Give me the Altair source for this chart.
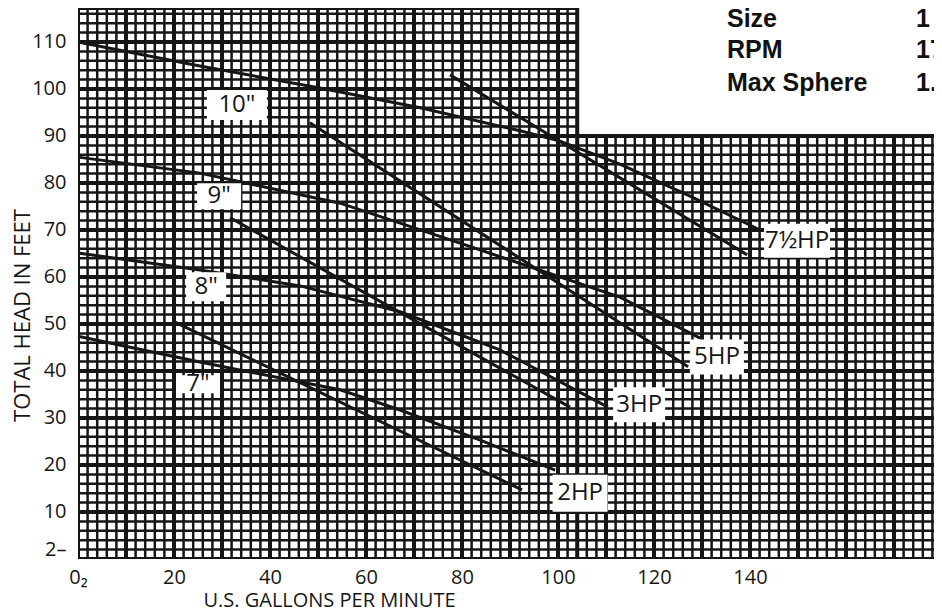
import altair as alt
import pandas as pd
import numpy as np

# ---- impeller-diameter head curves (U.S. gpm, total head ft) ----
d10_gpm = [0, 25.4, 50.4, 71.3, 92.1, 100.4, 112.9, 127.5, 142.1]
d10_head = [110.0, 104.9, 100.2, 96.0, 91.1, 88.9, 84.0, 77.2, 70.0]
d9_gpm = [0, 25.4, 54.6, 79.6, 112.9, 129.6]
d9_head = [85.5, 82.1, 75.7, 67.2, 55.7, 47.0]
d8_gpm = [0, 25.4, 46.3, 67.1, 87.9, 110.4]
d8_head = [65.1, 61.5, 58.1, 52.6, 44.5, 32.3]
d7_gpm = [0, 25.4, 54.6, 67.1, 83.8, 99.4]
d7_head = [47.4, 41.9, 36.0, 31.7, 25.3, 18.9]

# ---- horsepower limit lines ----
hp75_gpm = [77.5, 139.4]
hp75_head = [103.0, 64.7]
hp5_gpm = [48.3, 127.1]
hp5_head = [92.8, 40.9]
hp3_gpm = [31.7, 102.5]
hp3_head = [72.6, 32.3]
hp2_gpm = [20.2, 92.5]
hp2_head = [50.4, 14.7]

# ---- curve labels (anchor in data units) ----
curve_labels = ['10"', '9"', '8"', '7"', '7½HP', '5HP', '3HP', '2HP']
label_gpm = [33.1, 29.4, 26.7, 25.0, 149.8, 133.1, 116.9, 104.6]
label_head = [96.6, 77.2, 57.9, 37.2, 67.7, 43.0, 32.8, 14.0]

# ---- spec block ----
info_names = ["Size", "RPM", "Max Sphere"]
info_values = ['1 1/4"', "1750", '1.5"']
info_head = [113.2, 106.6, 99.6]
info_name_gpm = 135.2
info_value_gpm = 174.6

# ---- axis ticks ----
x_ticks = [0, 20, 40, 60, 80, 100, 120, 140]
y_ticks = [2, 10, 20, 30, 40, 50, 60, 70, 80, 90, 100, 110]

X_MAX = 178.33
Y_MAX = 117.23
STEP_X = 104
STEP_Y = 90

# ---------------- tables ----------------
curves = []
for name, gx, hy in [("10in", d10_gpm, d10_head), ("9in", d9_gpm, d9_head),
                     ("8in", d8_gpm, d8_head), ("7in", d7_gpm, d7_head),
                     ("7.5hp", hp75_gpm, hp75_head), ("5hp", hp5_gpm, hp5_head),
                     ("3hp", hp3_gpm, hp3_head), ("2hp", hp2_gpm, hp2_head)]:
    for i, (a, b) in enumerate(zip(gx, hy)):
        curves.append({"curve": name, "x": a, "y": b, "o": i})
curves = pd.DataFrame(curves)

# graph-paper grid (stepped outline)
rows = []
for v in range(0, 181, 2):
    top = Y_MAX if v <= STEP_X else STEP_Y
    rows.append({"x": v, "x2": v, "y": 0, "y2": top, "heavy": v % 10 == 0 or v == STEP_X})
for h in range(0, 117, 2):
    right = X_MAX + 2 if h <= STEP_Y else STEP_X
    rows.append({"x": 0, "x2": right, "y": h, "y2": h, "heavy": h % 10 == 0})
rows.append({"x": 0, "x2": STEP_X, "y": Y_MAX, "y2": Y_MAX, "heavy": True})
grid = pd.DataFrame(rows)

labels = pd.DataFrame({"x": label_gpm, "y": label_head, "t": curve_labels})
info = pd.DataFrame({"y": info_head, "name": info_names, "val": info_values})
info["x"] = info_name_gpm
info["xv"] = info_value_gpm

xs = alt.Scale(domain=[0, X_MAX], nice=False, zero=False)
ys = alt.Scale(domain=[0, Y_MAX], nice=False, zero=False)
FONT = "Open Sans"
INK = "#161616"

x_axis = alt.Axis(values=x_ticks, labelExpr="datum.value == 0 ? '0₂' : datum.label",
                  grid=False, domain=False, ticks=False, labelFont=FONT, labelFontSize=20,
                  labelColor=INK, labelPadding=8, labelFlush=False,
                  title="U.S. GALLONS PER MINUTE", titleFont=FONT, titleFontSize=20,
                  titleFontWeight="normal", titleColor=INK, titleX=251, titleY=47,
                  titleAlign="center", titleBaseline="alphabetic", titleAnchor="start")
y_axis = alt.Axis(values=y_ticks, labelExpr="datum.value == 2 ? '2–' : datum.label",
                  grid=False, domain=False, ticks=False, labelFont=FONT, labelFontSize=20,
                  labelColor=INK, labelPadding=12, labelFlush=False,
                  title="TOTAL HEAD IN FEET", titleFont=FONT, titleFontSize=22,
                  titleFontWeight="normal", titleColor=INK, titleX=-56, titleY=307,
                  titleAngle=270, titleAlign="center", titleBaseline="middle", titleAnchor="start")

fine = alt.Chart(grid).transform_filter("!datum.heavy").mark_rule(
    color=INK, strokeWidth=2.5, clip=True).encode(
    x=alt.X("x:Q", scale=xs, axis=x_axis), x2="x2:Q",
    y=alt.Y("y:Q", scale=ys, axis=y_axis), y2="y2:Q")
heavy = alt.Chart(grid).transform_filter("datum.heavy").mark_rule(
    color=INK, strokeWidth=4, clip=True).encode(x="x:Q", x2="x2:Q", y="y:Q", y2="y2:Q")

lines = alt.Chart(curves).mark_line(color=INK, strokeWidth=3).encode(
    x="x:Q", y="y:Q", detail="curve:N", order="o:Q")

box_sizes = [(60, 30), (44, 26), (40, 29), (44, 18), (66, 34), (54, 35), (52, 35), (55, 37)]
boxes = []
for i, (w, h) in enumerate(box_sizes):
    boxes.append(alt.Chart(labels.iloc[[i]]).mark_rect(width=w, height=h, color="white").encode(
        x="x:Q", y="y:Q"))

label_text = alt.Chart(labels).mark_text(font=FONT, fontSize=24, color=INK).encode(
    x="x:Q", y="y:Q", text="t:N")

info_names_t = alt.Chart(info).mark_text(font="Liberation Sans", fontWeight="bold", fontSize=25,
                                         align="left", baseline="alphabetic", color="#111").encode(
    x="x:Q", y="y:Q", text="name:N")
info_vals_t = alt.Chart(info).mark_text(font="Liberation Sans", fontWeight="bold", fontSize=25,
                                        align="left", baseline="alphabetic", color="#111").encode(
    x="xv:Q", y="y:Q", text="val:N")

chart = alt.layer(fine, heavy, lines, *boxes, label_text, info_names_t, info_vals_t).properties(
    width=856, height=551,
    autosize=alt.AutoSizeParams(type="none"),
    padding={"left": 70, "top": 0, "right": 0, "bottom": 49},
    background="white",
).configure_view(stroke=None)

chart.save("out.html", embed_options={"renderer": "svg", "actions": False})
